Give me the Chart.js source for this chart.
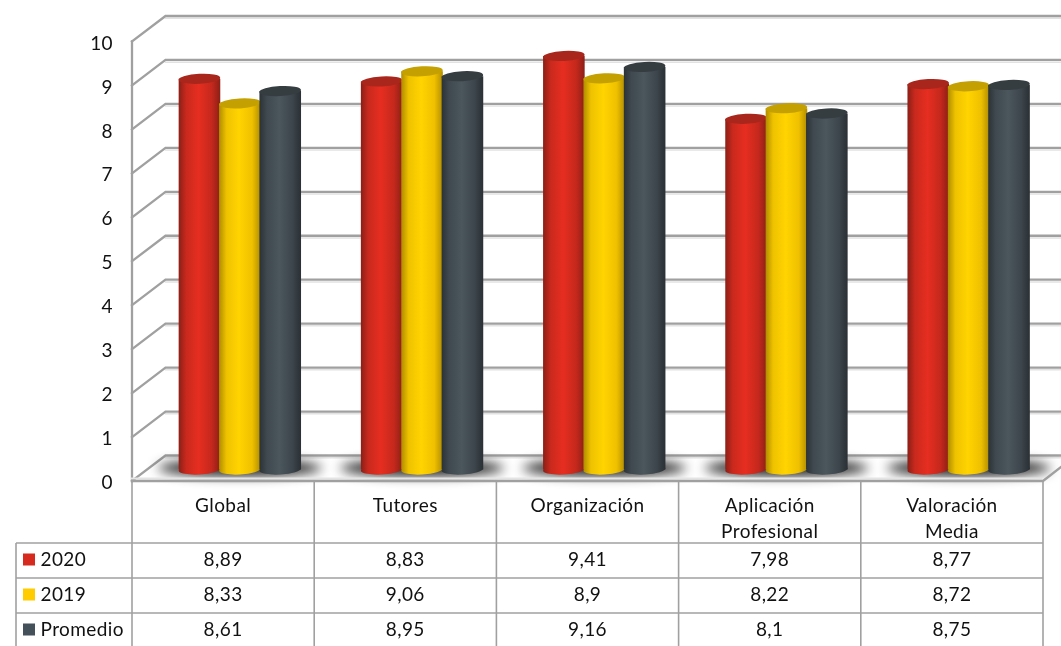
<!DOCTYPE html>
<html><head><meta charset="utf-8">
<style>html,body{margin:0;padding:0;background:#fff;overflow:hidden}canvas{display:block}</style>
<script src="https://cdn.jsdelivr.net/npm/chart.js@4"></script></head>
<body><canvas id="c" width="1061" height="646"></canvas>
<script>
const categories = [["Global"],["Tutores"],["Organización"],["Aplicación","Profesional"],["Valoración","Media"]];
const seriesNames = ["2020","2019","Promedio"];
const values2020 = [8.89,8.83,9.41,7.98,8.77];
const values2019 = [8.33,9.06,8.9,8.22,8.72];
const valuesProm = [8.61,8.95,9.16,8.1,8.75];
const swatches = ["#d62a1e","#ffcc00","#44505a"];
const bodyStops = [
 ["#8a1f16","#c9291d","#e62e21","#c4281c","#8c1f16"],
 ["#b08c00","#efc200","#ffd400","#eec000","#b08c00"],
 ["#2c3337","#3f494f","#4b565d","#3c454b","#2a3034"]];
const capColors = ["#a8261b","#c4a000","#363d41"];
const DX=33.5, DY=-25.5, BAR_DY=-11.5, CAP_RY=5, CAP_TILT=-0.055, GRID="#a0a0a0", FONT="Lato, Carlito, sans-serif", SPACING="0.4px";

const cyl3d = {
 id:"cyl3d",
 beforeDraw(chart){ chart.ctx.letterSpacing=SPACING; },
 beforeDatasetDraw(){ return false; },
 beforeDatasetsDraw(chart){
  const {ctx,chartArea:a,scales:{y,x}}=chart;
  ctx.save();
  // left wall and back wall
  ctx.lineCap="square";
  y.ticks.forEach(t=>{
   const py=y.getPixelForValue(t.value);
   ctx.strokeStyle="#e2e2e2"; ctx.lineWidth=1.5;
   ctx.beginPath(); ctx.moveTo(a.left+DX,py+DY+2.2); ctx.lineTo(1061,py+DY+2.2); ctx.stroke();
   ctx.strokeStyle=GRID; ctx.lineWidth=2.3;
   ctx.beginPath(); ctx.moveTo(a.left,py); ctx.lineTo(a.left+DX,py+DY); ctx.lineTo(1061,py+DY); ctx.stroke();
  });
  ctx.beginPath(); ctx.moveTo(a.left,a.top); ctx.lineTo(a.left,a.bottom); ctx.stroke();
  // floor shadows
  ctx.filter="blur(6px)";
  ctx.fillStyle="rgba(20,20,20,.95)";
  x.ticks.forEach((t,i)=>{
   const cx=x.getPixelForTick(i)+DX/2;
   ctx.beginPath(); ctx.ellipse(cx,468,82,8,0,0,Math.PI*2); ctx.fill();
  });
  ctx.filter="none";
  // floor front edge
  ctx.strokeStyle="#e4e4e4"; ctx.lineWidth=2;
  ctx.beginPath(); ctx.moveTo(a.left,a.bottom-2.5); ctx.lineTo(a.right-2,a.bottom-2.5); ctx.stroke();
  ctx.strokeStyle=GRID; ctx.lineWidth=2.3;
  ctx.beginPath(); ctx.moveTo(a.left,a.bottom); ctx.lineTo(a.right,a.bottom); ctx.lineTo(1061,a.bottom-14); ctx.stroke();
  ctx.restore();
 },
 afterDatasetsDraw(chart){
  const {ctx}=chart;
  chart.data.datasets.forEach((ds,di)=>{
   const meta=chart.getDatasetMeta(di);
   ctx.save(); ctx.translate(DX/2,BAR_DY);
   meta.data.forEach(el=>{
    const l=el.x-el.width/2, r=el.x+el.width/2, g=ctx.createLinearGradient(l,0,r,0);
    bodyStops[di].forEach((c,k)=>g.addColorStop([0,.18,.48,.8,1][k],c));
    el.options=Object.assign({},el.options,{backgroundColor:g});
    ctx.fillStyle=g;
    ctx.beginPath(); ctx.ellipse(el.x,el.base,el.width/2,CAP_RY,CAP_TILT,0,Math.PI*2); ctx.fill();
   });
   meta.controller.draw();
   meta.data.forEach(el=>{
    ctx.fillStyle=capColors[di];
    ctx.beginPath(); ctx.ellipse(el.x,el.y,el.width/2,CAP_RY,CAP_TILT,0,Math.PI*2); ctx.fill();
   });
   ctx.restore();
  });
 }
};

const dataTable = {
 id:"dataTable",
 afterDraw(chart){
  const {ctx,chartArea:a,scales:{x}}=chart;
  const rowY=[543,578,613], bottom=648, colW=(a.right-a.left)/categories.length, legendLeft=16;
  ctx.save();
  ctx.strokeStyle=GRID; ctx.lineWidth=1.6;
  for(let i=0;i<=categories.length;i++){
   const px=a.left+i*colW;
   ctx.beginPath(); ctx.moveTo(px,a.bottom); ctx.lineTo(px,bottom); ctx.stroke();
  }
  ctx.beginPath(); ctx.moveTo(legendLeft,rowY[0]); ctx.lineTo(legendLeft,bottom); ctx.stroke();
  rowY.forEach(ry=>{ctx.beginPath(); ctx.moveTo(legendLeft,ry); ctx.lineTo(a.right,ry); ctx.stroke();});
  ctx.font="19px "+FONT; ctx.fillStyle="#111"; ctx.textBaseline="middle";
  chart.data.datasets.forEach((ds,di)=>{
   const cy=rowY[di]+16.5;
   ctx.fillStyle=swatches[di]; ctx.fillRect(23,cy-6,12,12);
   ctx.fillStyle="#111"; ctx.textAlign="left"; ctx.fillText(ds.label,40.5,cy);
   ctx.textAlign="center";
   ds.data.forEach((v,i)=>ctx.fillText(String(v).replace(".",","),x.getPixelForTick(i),cy));
  });
  ctx.restore();
 }
};

new Chart(document.getElementById("c"),{
 type:"bar",
 data:{labels:categories,datasets:[
  {label:seriesNames[0],data:values2020,backgroundColor:swatches[0]},
  {label:seriesNames[1],data:values2019,backgroundColor:swatches[1]},
  {label:seriesNames[2],data:valuesProm,backgroundColor:swatches[2]}]},
 options:{
  responsive:false,animation:false,
  layout:{padding:{top:41.5,right:18,left:0,bottom:0}},
  datasets:{bar:{categoryPercentage:.665,barPercentage:1.03,borderWidth:0}},
  plugins:{legend:{display:false},tooltip:{enabled:false},title:{display:false}},
  scales:{
   x:{grid:{display:false},border:{display:false},
    afterFit(s){s.height=165;},
    ticks:{color:"#111",padding:4,maxRotation:0,minRotation:0,autoSkip:false,font:{family:FONT,size:19,lineHeight:1.37}}},
   y:{min:0,max:10,grid:{display:false},border:{display:false},
    afterFit(s){
     s.width=132;
     if(!s._shifted){s._shifted=true;const d=s.drawLabels.bind(s);
      s.drawLabels=ar=>{s.ctx.save();s.ctx.translate(0,2);d(ar);s.ctx.restore();};}
    },
    ticks:{stepSize:1,padding:11,color:"#111",font:{family:FONT,size:19}}}
  }
 },
 plugins:[cyl3d,dataTable]
});
</script></body></html>
